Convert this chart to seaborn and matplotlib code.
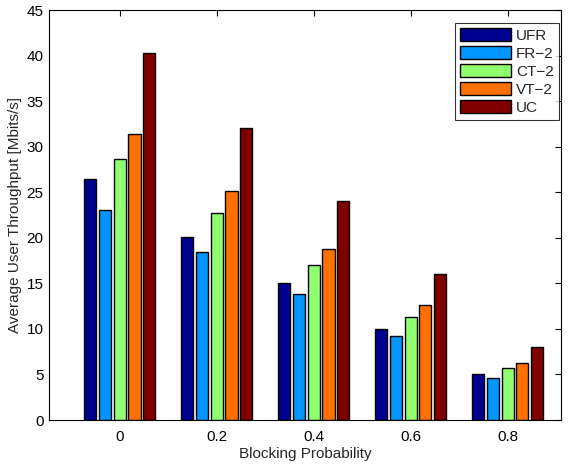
import pandas as pd
import matplotlib
matplotlib.use("Agg")
import matplotlib.pyplot as plt
import seaborn as sns

# data
blocking = ["0", "0.2", "0.4", "0.6", "0.8"]
schemes = ["UFR", "FR\u22122", "CT\u22122", "VT\u22122", "UC"]
ufr = [26.4, 20.1, 15.0, 10.0, 5.0]
fr2 = [23.0, 18.4, 13.8, 9.2, 4.6]
ct2 = [28.7, 22.7, 17.0, 11.3, 5.7]
vt2 = [31.4, 25.1, 18.8, 12.6, 6.3]
uc = [40.3, 32.1, 24.0, 16.0, 8.0]

colors = ["#000090", "#0095FF", "#90FF70", "#FF7000", "#800000"]

rows = []
for name, vals in zip(schemes, [ufr, fr2, ct2, vt2, uc]):
    for b, v in zip(blocking, vals):
        rows.append({"Blocking": b, "Scheme": name, "Throughput": v})
df = pd.DataFrame(rows)

sns.set_style("white")
plt.rcParams["font.family"] = ["Liberation Sans", "DejaVu Sans"]
plt.rcParams["font.size"] = 11

fig = plt.figure(figsize=(5.71, 4.66), dpi=100)
ax = fig.add_axes([0.0858, 0.0987, 0.8967, 0.8798])

sns.barplot(data=df, x="Blocking", y="Throughput", hue="Scheme",
            order=blocking, hue_order=schemes, palette=colors,
            width=0.76, gap=0.18, edgecolor="black", linewidth=1,
            saturation=1, ax=ax)

ax.set_xlim(-0.73, 4.55)
ax.set_ylim(0, 45)
ax.set_yticks(range(0, 46, 5))
ax.set_xlabel("Blocking Probability", fontsize=11, labelpad=2)
ax.set_ylabel("Average User Throughput [Mbits/s]", fontsize=11, labelpad=3)
ax.tick_params(axis="y", direction="in", length=4, width=0.8, labelsize=11,
               pad=4, right=True, colors="black")
ax.tick_params(axis="x", direction="in", length=4, width=0.8, labelsize=11,
               pad=7, top=True, colors="black")
for s in ax.spines.values():
    s.set_visible(True)
    s.set_color("black")
    s.set_linewidth(0.8)

leg = ax.legend(loc="upper right", bbox_to_anchor=(0.996, 0.968),
                fancybox=False, edgecolor="black", fontsize=11,
                handlelength=3.3, handleheight=0.9, labelspacing=0.22,
                borderaxespad=0, handletextpad=0.35, borderpad=0.35)
leg.get_frame().set_linewidth(0.8)

fig.savefig("out.png", dpi=100)
